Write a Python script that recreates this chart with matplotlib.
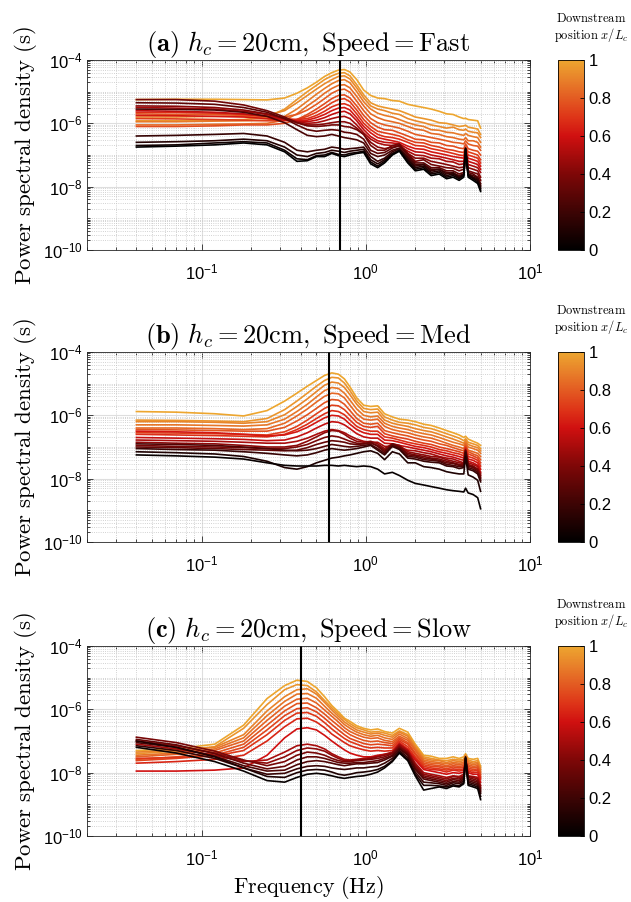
import numpy as np
import matplotlib
matplotlib.use("Agg")
import matplotlib.pyplot as plt
from matplotlib.colors import LinearSegmentedColormap, Normalize
from matplotlib.cm import ScalarMappable
from matplotlib.ticker import FixedLocator, LogLocator, NullFormatter

plt.rcParams['font.family'] = ['Liberation Sans', 'DejaVu Sans']
plt.rcParams['mathtext.fontset'] = 'custom'
plt.rcParams['mathtext.rm'] = 'Liberation Sans'

# frequency grid (Hz) shared by all spectra
freq = [0.04, 0.07, 0.12, 0.18, 0.25, 0.32, 0.38, 0.44, 0.5, 0.56, 0.62, 0.68,
        0.74, 0.8, 0.88, 0.97, 1.07, 1.18, 1.3, 1.45, 1.6, 1.8, 2.0, 2.25, 2.5,
        2.8, 3.1, 3.4, 3.7, 3.95, 4.05, 4.2, 4.5, 4.8, 5.0]

# downstream position x/Lc of each spectrum (colour)
pos_fast = [1.0, 0.96, 0.92, 0.88, 0.84, 0.80, 0.76, 0.72, 0.68, 0.62,
            0.56, 0.50, 0.42, 0.36, 0.30, 0.24, 0.18, 0.12, 0.06, 0.0]
# log10 of PSD, one row per position
psd_fast = [
    [-5.25,-5.24,-5.24,-5.25,-5.26,-5.2,-5.05,-4.88,-4.7,-4.52,-4.4,-4.32,-4.3,-4.38,-4.62,-4.95,-5.12,-5.2,-5.22,-5.28,-5.3,-5.4,-5.45,-5.5,-5.55,-5.62,-5.7,-5.72,-5.8,-5.85,-5.84,-5.88,-5.9,-5.92,-6.15],
    [-5.92,-5.92,-5.9,-5.88,-5.8,-5.55,-5.25,-5.0,-4.8,-4.62,-4.5,-4.42,-4.4,-4.5,-4.78,-5.1,-5.35,-5.45,-5.5,-5.55,-5.6,-5.7,-5.8,-5.85,-5.9,-5.98,-6.0,-6.05,-6.1,-6.08,-6.06,-6.12,-6.15,-6.18,-6.35],
    [-5.8,-5.8,-5.78,-5.78,-5.75,-5.6,-5.35,-5.12,-4.92,-4.75,-4.62,-4.52,-4.5,-4.6,-4.88,-5.2,-5.45,-5.55,-5.6,-5.68,-5.72,-5.85,-5.92,-5.98,-6.05,-6.1,-6.15,-6.12,-6.2,-6.22,-6.18,-6.25,-6.28,-6.3,-6.45],
    [-5.95,-5.95,-5.93,-5.92,-5.9,-5.78,-5.55,-5.3,-5.08,-4.9,-4.75,-4.65,-4.62,-4.72,-5.0,-5.32,-5.55,-5.68,-5.75,-5.8,-5.88,-5.98,-6.05,-6.1,-6.2,-6.22,-6.28,-6.3,-6.35,-6.38,-6.32,-6.38,-6.42,-6.45,-6.6],
    [-6.05,-6.05,-6.03,-6.02,-6.0,-5.9,-5.7,-5.45,-5.25,-5.05,-4.9,-4.8,-4.78,-4.88,-5.15,-5.45,-5.7,-5.82,-5.9,-5.95,-6.0,-6.1,-6.18,-6.22,-6.32,-6.35,-6.42,-6.45,-6.5,-6.52,-6.45,-6.55,-6.55,-6.6,-6.75],
    [-5.7,-5.72,-5.72,-5.75,-5.78,-5.8,-5.72,-5.58,-5.4,-5.22,-5.05,-4.95,-4.92,-5.02,-5.3,-5.6,-5.85,-5.98,-6.05,-6.1,-6.15,-6.25,-6.35,-6.4,-6.45,-6.5,-6.55,-6.6,-6.62,-6.65,-6.55,-6.65,-6.7,-6.72,-6.85],
    [-6.1,-6.1,-6.08,-6.05,-6.05,-6.0,-5.88,-5.72,-5.55,-5.38,-5.22,-5.12,-5.1,-5.2,-5.45,-5.75,-5.98,-6.12,-6.2,-6.22,-6.3,-6.4,-6.5,-6.52,-6.6,-6.62,-6.7,-6.72,-6.78,-6.8,-6.65,-6.8,-6.85,-6.88,-7.0],
    [-5.85,-5.86,-5.88,-5.9,-5.92,-5.92,-5.88,-5.78,-5.65,-5.5,-5.35,-5.25,-5.22,-5.32,-5.58,-5.88,-6.1,-6.25,-6.3,-6.35,-6.4,-6.52,-6.6,-6.62,-6.7,-6.75,-6.82,-6.85,-6.9,-6.92,-6.75,-6.9,-6.95,-7.0,-7.15],
    [-5.65,-5.66,-5.68,-5.72,-5.78,-5.85,-5.88,-5.85,-5.75,-5.62,-5.48,-5.4,-5.38,-5.45,-5.7,-6.0,-6.2,-6.35,-6.42,-6.45,-6.5,-6.6,-6.7,-6.72,-6.8,-6.85,-6.9,-6.95,-7.0,-7.02,-6.82,-7.0,-7.05,-7.1,-7.25],
    [-5.75,-5.76,-5.78,-5.8,-5.85,-5.9,-5.92,-5.9,-5.82,-5.72,-5.6,-5.52,-5.5,-5.58,-5.82,-6.1,-6.3,-6.45,-6.5,-6.55,-6.6,-6.72,-6.8,-6.82,-6.9,-6.95,-7.0,-7.05,-7.08,-7.1,-6.85,-7.1,-7.15,-7.2,-7.35],
    [-5.6,-5.62,-5.65,-5.7,-5.78,-5.88,-5.95,-5.95,-5.9,-5.82,-5.72,-5.65,-5.62,-5.7,-5.92,-6.2,-6.42,-6.55,-6.6,-6.62,-6.65,-6.8,-6.9,-6.92,-7.0,-7.05,-7.1,-7.15,-7.2,-7.2,-6.9,-7.2,-7.25,-7.3,-7.45],
    [-5.5,-5.52,-5.55,-5.62,-5.72,-5.85,-5.95,-6.0,-5.98,-5.92,-5.85,-5.8,-5.78,-5.85,-6.05,-6.3,-6.5,-6.62,-6.68,-6.7,-6.72,-6.88,-7.0,-7.02,-7.1,-7.12,-7.2,-7.22,-7.3,-7.28,-6.95,-7.3,-7.35,-7.4,-7.55],
    [-5.45,-5.46,-5.5,-5.58,-5.7,-5.85,-5.98,-6.05,-6.05,-6.02,-5.98,-5.95,-5.95,-6.0,-6.15,-6.35,-6.6,-6.75,-6.8,-6.75,-6.72,-6.95,-7.1,-7.1,-7.2,-7.25,-7.3,-7.35,-7.4,-7.38,-6.95,-7.4,-7.45,-7.5,-7.7],
    [-5.25,-5.25,-5.3,-5.42,-5.6,-5.8,-5.98,-6.08,-6.1,-6.08,-6.05,-6.05,-6.1,-6.12,-6.2,-6.35,-6.7,-6.85,-6.85,-6.7,-6.65,-6.95,-7.2,-7.15,-7.3,-7.35,-7.4,-7.42,-7.5,-7.45,-6.9,-7.5,-7.55,-7.6,-7.8],
    [-5.35,-5.36,-5.4,-5.5,-5.65,-5.85,-6.05,-6.2,-6.25,-6.22,-6.2,-6.22,-6.28,-6.3,-6.35,-6.5,-6.85,-6.95,-6.92,-6.78,-6.7,-7.0,-7.25,-7.25,-7.4,-7.4,-7.5,-7.5,-7.6,-7.55,-6.85,-7.55,-7.6,-7.7,-7.9],
    [-5.55,-5.56,-5.58,-5.65,-5.78,-5.98,-6.2,-6.38,-6.42,-6.4,-6.35,-6.4,-6.45,-6.48,-6.52,-6.62,-6.95,-7.05,-7.0,-6.85,-6.78,-7.05,-7.3,-7.3,-7.45,-7.45,-7.55,-7.58,-7.65,-7.6,-6.9,-7.6,-7.65,-7.72,-7.95],
    [-6.4,-6.38,-6.35,-6.32,-6.4,-6.6,-6.85,-6.9,-6.85,-6.82,-6.75,-6.78,-6.82,-6.8,-6.78,-6.75,-7.05,-7.2,-7.1,-6.9,-6.8,-7.1,-7.35,-7.3,-7.5,-7.45,-7.6,-7.55,-7.7,-7.6,-6.8,-7.6,-7.7,-7.75,-8.0],
    [-6.6,-6.58,-6.55,-6.5,-6.55,-6.75,-7.0,-7.05,-6.95,-6.92,-6.85,-6.88,-6.92,-6.88,-6.85,-6.82,-7.15,-7.28,-7.15,-6.95,-6.85,-7.15,-7.4,-7.35,-7.55,-7.5,-7.65,-7.6,-7.72,-7.62,-6.78,-7.62,-7.72,-7.8,-8.05],
    [-6.7,-6.68,-6.62,-6.58,-6.62,-6.85,-7.12,-7.15,-7.02,-7.0,-6.92,-6.98,-7.0,-6.95,-6.92,-6.88,-7.22,-7.35,-7.2,-6.98,-6.85,-7.2,-7.45,-7.4,-7.6,-7.55,-7.7,-7.65,-7.75,-7.65,-6.8,-7.65,-7.75,-7.85,-8.1],
    [-6.75,-6.72,-6.68,-6.62,-6.68,-6.9,-7.2,-7.18,-7.05,-7.05,-6.95,-7.02,-7.05,-7.0,-6.95,-6.92,-7.28,-7.4,-7.25,-7.0,-6.88,-7.25,-7.5,-7.45,-7.65,-7.6,-7.75,-7.7,-7.8,-7.7,-6.82,-7.7,-7.8,-7.9,-8.15],
]

pos_med = [1.0, 0.95, 0.91, 0.87, 0.83, 0.78, 0.73, 0.68, 0.62, 0.57,
           0.50, 0.44, 0.38, 0.32, 0.25, 0.18, 0.10, 0.03]
psd_med = [
    [-5.88,-5.9,-5.95,-6.02,-5.85,-5.55,-5.3,-5.08,-4.9,-4.74,-4.66,-4.7,-4.85,-5.1,-5.45,-5.68,-5.72,-5.7,-5.95,-6.05,-6.12,-6.15,-6.2,-6.28,-6.32,-6.4,-6.48,-6.55,-6.62,-6.7,-6.66,-6.75,-6.82,-6.88,-6.95],
    [-6.15,-6.16,-6.18,-6.2,-6.1,-5.82,-5.55,-5.3,-5.08,-4.9,-4.8,-4.82,-4.98,-5.22,-5.55,-5.78,-5.82,-5.8,-6.05,-6.15,-6.22,-6.25,-6.3,-6.38,-6.42,-6.5,-6.58,-6.65,-6.72,-6.8,-6.74,-6.85,-6.9,-6.95,-7.05],
    [-6.2,-6.2,-6.22,-6.25,-6.2,-5.98,-5.72,-5.48,-5.25,-5.05,-4.95,-4.98,-5.12,-5.35,-5.65,-5.88,-5.92,-5.9,-6.15,-6.25,-6.3,-6.35,-6.42,-6.48,-6.52,-6.6,-6.68,-6.75,-6.82,-6.88,-6.8,-6.92,-6.98,-7.02,-7.12],
    [-6.3,-6.3,-6.32,-6.34,-6.3,-6.12,-5.88,-5.65,-5.42,-5.22,-5.12,-5.15,-5.3,-5.52,-5.8,-6.0,-6.05,-6.02,-6.25,-6.35,-6.4,-6.45,-6.52,-6.58,-6.62,-6.7,-6.78,-6.85,-6.9,-6.95,-6.85,-7.0,-7.05,-7.1,-7.2],
    [-6.4,-6.4,-6.42,-6.45,-6.42,-6.25,-6.02,-5.8,-5.58,-5.4,-5.3,-5.32,-5.45,-5.68,-5.95,-6.12,-6.15,-6.12,-6.35,-6.45,-6.5,-6.55,-6.62,-6.68,-6.72,-6.8,-6.88,-6.95,-7.0,-7.05,-6.9,-7.1,-7.15,-7.2,-7.3],
    [-6.45,-6.46,-6.48,-6.5,-6.5,-6.38,-6.18,-5.98,-5.78,-5.6,-5.5,-5.52,-5.65,-5.85,-6.1,-6.25,-6.28,-6.25,-6.48,-6.55,-6.6,-6.65,-6.72,-6.78,-6.82,-6.9,-6.95,-7.02,-7.08,-7.12,-6.95,-7.15,-7.22,-7.28,-7.4],
    [-6.55,-6.56,-6.58,-6.6,-6.62,-6.52,-6.35,-6.15,-5.95,-5.78,-5.68,-5.7,-5.82,-6.0,-6.22,-6.35,-6.38,-6.35,-6.58,-6.65,-6.7,-6.75,-6.82,-6.88,-6.92,-7.0,-7.05,-7.1,-7.15,-7.2,-7.0,-7.22,-7.28,-7.35,-7.5],
    [-6.6,-6.62,-6.64,-6.66,-6.68,-6.6,-6.45,-6.28,-6.1,-5.95,-5.85,-5.88,-5.98,-6.15,-6.35,-6.45,-6.5,-6.5,-6.68,-6.72,-6.78,-6.85,-6.9,-6.95,-7.0,-7.08,-7.12,-7.18,-7.22,-7.28,-7.02,-7.3,-7.35,-7.42,-7.6],
    [-6.5,-6.52,-6.55,-6.6,-6.65,-6.62,-6.52,-6.38,-6.22,-6.08,-6.0,-6.02,-6.12,-6.28,-6.45,-6.55,-6.6,-6.6,-6.78,-6.8,-6.85,-6.92,-6.98,-7.02,-7.08,-7.15,-7.2,-7.25,-7.3,-7.35,-7.05,-7.38,-7.42,-7.5,-7.7],
    [-6.7,-6.72,-6.74,-6.76,-6.8,-6.78,-6.68,-6.55,-6.4,-6.28,-6.2,-6.22,-6.3,-6.42,-6.58,-6.68,-6.72,-6.72,-6.88,-6.9,-6.95,-7.0,-7.05,-7.1,-7.15,-7.22,-7.28,-7.32,-7.38,-7.42,-7.1,-7.45,-7.5,-7.58,-7.8],
    [-6.78,-6.8,-6.82,-6.85,-6.88,-6.88,-6.82,-6.72,-6.6,-6.5,-6.45,-6.48,-6.55,-6.65,-6.75,-6.82,-6.85,-6.85,-6.98,-6.98,-7.02,-7.1,-7.12,-7.18,-7.22,-7.3,-7.35,-7.38,-7.45,-7.5,-7.12,-7.5,-7.55,-7.62,-7.85],
    [-6.85,-6.88,-6.9,-6.95,-7.0,-7.0,-6.95,-6.82,-6.68,-6.55,-6.48,-6.5,-6.6,-6.72,-6.82,-6.85,-6.82,-6.9,-7.05,-6.9,-6.95,-7.15,-7.2,-7.25,-7.3,-7.32,-7.4,-7.45,-7.5,-7.52,-7.1,-7.55,-7.6,-7.7,-7.9],
    [-6.95,-6.98,-7.0,-7.02,-7.05,-7.05,-7.0,-6.92,-6.8,-6.7,-6.65,-6.68,-6.75,-6.82,-6.88,-6.9,-6.88,-6.95,-7.1,-6.95,-7.0,-7.2,-7.25,-7.3,-7.35,-7.38,-7.45,-7.5,-7.55,-7.55,-7.1,-7.58,-7.62,-7.7,-7.95],
    [-7.0,-7.02,-7.05,-7.08,-7.1,-7.12,-7.1,-7.02,-6.92,-6.85,-6.8,-6.82,-6.85,-6.9,-6.92,-6.9,-6.85,-6.98,-7.15,-6.9,-7.0,-7.25,-7.28,-7.35,-7.38,-7.42,-7.5,-7.52,-7.58,-7.6,-7.12,-7.6,-7.65,-7.75,-8.0],
    [-6.9,-6.92,-6.95,-7.0,-7.05,-7.1,-7.12,-7.1,-7.05,-6.98,-6.92,-6.95,-6.98,-7.0,-6.98,-6.95,-6.92,-7.05,-7.2,-6.95,-7.05,-7.3,-7.32,-7.4,-7.42,-7.45,-7.55,-7.58,-7.62,-7.62,-7.15,-7.65,-7.7,-7.8,-8.05],
    [-7.05,-7.08,-7.1,-7.15,-7.2,-7.25,-7.28,-7.25,-7.18,-7.1,-7.05,-7.08,-7.1,-7.08,-7.05,-7.0,-6.95,-7.1,-7.25,-6.98,-7.08,-7.35,-7.38,-7.45,-7.48,-7.5,-7.6,-7.62,-7.68,-7.65,-7.18,-7.7,-7.75,-7.85,-8.1],
    [-7.15,-7.18,-7.22,-7.3,-7.45,-7.65,-7.7,-7.62,-7.5,-7.42,-7.35,-7.32,-7.28,-7.25,-7.2,-7.15,-7.12,-7.2,-7.4,-7.15,-7.22,-7.5,-7.5,-7.62,-7.65,-7.7,-7.78,-7.82,-7.85,-7.85,-7.3,-7.88,-7.95,-8.05,-8.4],
    [-7.25,-7.28,-7.32,-7.38,-7.5,-7.58,-7.6,-7.6,-7.6,-7.58,-7.58,-7.6,-7.58,-7.6,-7.62,-7.6,-7.62,-7.7,-7.85,-7.8,-7.9,-8.05,-8.15,-8.2,-8.25,-8.3,-8.35,-8.38,-8.4,-8.42,-8.3,-8.45,-8.5,-8.6,-8.95],
]

pos_slow = [1.0, 0.95, 0.90, 0.86, 0.82, 0.78, 0.74, 0.70, 0.66, 0.60,
            0.50, 0.44, 0.38, 0.32, 0.25, 0.18, 0.10, 0.03]
psd_slow = [
    [-7.3,-7.25,-7.1,-6.5,-5.66,-5.25,-5.08,-5.12,-5.32,-5.6,-5.88,-6.08,-6.28,-6.38,-6.52,-6.6,-6.65,-6.62,-6.7,-6.75,-6.6,-6.72,-7.1,-7.45,-7.48,-7.55,-7.55,-7.5,-7.55,-7.5,-7.4,-7.55,-7.58,-7.55,-7.8],
    [-7.4,-7.32,-7.18,-6.6,-5.85,-5.38,-5.22,-5.25,-5.45,-5.72,-5.95,-6.15,-6.32,-6.45,-6.58,-6.65,-6.72,-6.7,-6.75,-6.82,-6.68,-6.8,-7.15,-7.5,-7.55,-7.6,-7.62,-7.58,-7.6,-7.58,-7.45,-7.6,-7.65,-7.62,-7.85],
    [-7.35,-7.3,-7.2,-6.8,-6.05,-5.6,-5.38,-5.35,-5.52,-5.78,-6.02,-6.22,-6.4,-6.52,-6.65,-6.72,-6.78,-6.75,-6.82,-6.88,-6.72,-6.85,-7.2,-7.55,-7.6,-7.62,-7.68,-7.62,-7.65,-7.62,-7.45,-7.65,-7.7,-7.68,-7.9],
    [-7.45,-7.38,-7.25,-6.9,-6.2,-5.75,-5.52,-5.5,-5.65,-5.9,-6.12,-6.3,-6.48,-6.6,-6.72,-6.8,-6.85,-6.82,-6.9,-6.95,-6.78,-6.92,-7.25,-7.6,-7.65,-7.68,-7.72,-7.68,-7.7,-7.68,-7.5,-7.7,-7.75,-7.72,-7.95],
    [-7.5,-7.42,-7.3,-7.0,-6.35,-5.9,-5.68,-5.65,-5.8,-6.02,-6.22,-6.4,-6.58,-6.7,-6.8,-6.88,-6.92,-6.9,-6.98,-7.02,-6.85,-6.98,-7.3,-7.65,-7.7,-7.72,-7.78,-7.72,-7.75,-7.72,-7.55,-7.75,-7.8,-7.78,-8.0],
    [-7.58,-7.5,-7.38,-7.1,-6.5,-6.05,-5.82,-5.8,-5.95,-6.15,-6.35,-6.52,-6.68,-6.8,-6.9,-6.98,-7.02,-7.0,-7.05,-7.08,-6.9,-7.05,-7.38,-7.7,-7.75,-7.78,-7.82,-7.78,-7.8,-7.78,-7.6,-7.8,-7.85,-7.82,-8.05],
    [-7.62,-7.55,-7.45,-7.2,-6.65,-6.2,-5.98,-5.95,-6.08,-6.28,-6.48,-6.65,-6.8,-6.92,-7.0,-7.08,-7.12,-7.1,-7.12,-7.15,-6.95,-7.1,-7.42,-7.75,-7.8,-7.82,-7.88,-7.82,-7.85,-7.82,-7.62,-7.85,-7.9,-7.88,-8.1],
    [-7.55,-7.52,-7.48,-7.3,-6.8,-6.35,-6.12,-6.1,-6.22,-6.42,-6.62,-6.78,-6.92,-7.02,-7.1,-7.18,-7.22,-7.2,-7.22,-7.22,-7.0,-7.18,-7.5,-7.8,-7.85,-7.88,-7.92,-7.88,-7.9,-7.88,-7.65,-7.9,-7.95,-7.92,-8.15],
    [-7.7,-7.65,-7.58,-7.45,-7.0,-6.55,-6.3,-6.28,-6.4,-6.58,-6.78,-6.92,-7.05,-7.15,-7.22,-7.28,-7.32,-7.3,-7.32,-7.3,-7.05,-7.25,-7.55,-7.85,-7.9,-7.92,-7.98,-7.92,-7.95,-7.92,-7.68,-7.95,-8.0,-7.98,-8.2],
    [-7.95,-7.95,-7.92,-7.85,-7.45,-6.9,-6.62,-6.58,-6.65,-6.82,-7.0,-7.15,-7.28,-7.38,-7.45,-7.5,-7.5,-7.45,-7.42,-7.38,-7.1,-7.3,-7.6,-7.9,-7.95,-8.0,-8.05,-8.0,-8.02,-7.98,-7.7,-8.0,-8.05,-8.05,-8.3],
    [-7.1,-7.25,-7.45,-7.65,-7.6,-7.35,-7.15,-7.1,-7.15,-7.25,-7.4,-7.5,-7.58,-7.6,-7.58,-7.55,-7.52,-7.48,-7.42,-7.35,-7.1,-7.3,-7.7,-8.0,-8.05,-8.1,-8.15,-8.1,-8.12,-8.05,-7.6,-8.1,-8.12,-8.15,-8.4],
    [-7.0,-7.15,-7.38,-7.62,-7.7,-7.5,-7.3,-7.22,-7.25,-7.32,-7.45,-7.55,-7.62,-7.62,-7.6,-7.58,-7.55,-7.5,-7.45,-7.38,-7.15,-7.35,-7.75,-8.05,-8.1,-8.15,-8.2,-8.12,-8.15,-8.1,-7.58,-8.12,-8.15,-8.2,-8.45],
    [-6.88,-7.05,-7.32,-7.6,-7.78,-7.65,-7.45,-7.35,-7.38,-7.45,-7.55,-7.62,-7.65,-7.65,-7.62,-7.6,-7.58,-7.55,-7.5,-7.4,-7.18,-7.38,-7.8,-8.1,-8.15,-8.2,-8.25,-8.18,-8.2,-8.12,-7.55,-8.15,-8.2,-8.25,-8.5],
    [-6.95,-7.12,-7.4,-7.7,-7.88,-7.8,-7.6,-7.5,-7.5,-7.55,-7.62,-7.68,-7.7,-7.7,-7.68,-7.68,-7.65,-7.62,-7.55,-7.45,-7.22,-7.42,-7.85,-8.15,-8.2,-8.25,-8.3,-8.22,-8.25,-8.15,-7.55,-8.2,-8.25,-8.3,-8.55],
    [-7.05,-7.2,-7.48,-7.78,-7.95,-7.92,-7.75,-7.65,-7.62,-7.65,-7.7,-7.75,-7.78,-7.75,-7.72,-7.72,-7.7,-7.68,-7.6,-7.48,-7.25,-7.45,-7.9,-8.2,-8.25,-8.3,-8.35,-8.28,-8.3,-8.2,-7.52,-8.25,-8.3,-8.35,-8.6],
    [-7.15,-7.3,-7.55,-7.85,-8.05,-8.02,-7.88,-7.8,-7.78,-7.8,-7.85,-7.88,-7.9,-7.88,-7.85,-7.85,-7.82,-7.8,-7.7,-7.55,-7.3,-7.52,-7.98,-8.3,-8.32,-8.35,-8.4,-8.32,-8.35,-8.25,-7.55,-8.3,-8.35,-8.4,-8.65],
    [-7.0,-7.2,-7.5,-7.85,-8.12,-8.15,-8.0,-7.92,-7.9,-7.92,-7.98,-8.05,-8.08,-8.05,-8.0,-7.98,-7.95,-7.9,-7.8,-7.62,-7.35,-7.58,-8.05,-8.4,-8.4,-8.42,-8.45,-8.38,-8.42,-8.3,-7.5,-8.35,-8.4,-8.45,-8.75],
    [-7.2,-7.38,-7.65,-7.95,-8.25,-8.3,-8.15,-8.05,-8.02,-8.05,-8.1,-8.15,-8.18,-8.15,-8.12,-8.1,-8.05,-7.98,-7.85,-7.65,-7.38,-7.62,-8.1,-8.55,-8.5,-8.45,-8.5,-8.42,-8.45,-8.35,-7.55,-8.4,-8.45,-8.5,-8.85],
]

titles = [r'$\mathbf{(a)}\ h_c = 20\mathrm{cm,\ Speed} = \mathrm{Fast}$',
          r'$\mathbf{(b)}\ h_c = 20\mathrm{cm,\ Speed} = \mathrm{Med}$',
          r'$\mathbf{(c)}\ h_c = 20\mathrm{cm,\ Speed} = \mathrm{Slow}$']
peak_freq = [0.7, 0.6, 0.4]

cmap = LinearSegmentedColormap.from_list('downstream', [
    (0.0, '#000000'), (0.2, '#3d0404'), (0.4, '#7e0707'), (0.6, '#d01010'),
    (0.7, '#de3518'), (0.8, '#e35b22'), (0.9, '#e8812a'), (1.0, '#eda62f')])
norm = Normalize(0, 1)

fig = plt.figure(figsize=(6.31, 9.02), dpi=100)
W, H = 631.0, 902.0
tops = [60, 352, 646]
ax_h = 190

panels = [(pos_fast, psd_fast), (pos_med, psd_med), (pos_slow, psd_slow)]
for i, (pos, psd) in enumerate(panels):
    top = tops[i]
    ax = fig.add_axes([87 / W, 1 - (top + ax_h) / H, 443 / W, ax_h / H])
    # dark (upstream) spectra drawn last
    order = np.argsort(pos)[::-1]
    for k in order:
        ax.plot(freq, 10.0 ** np.array(psd[k]), color=cmap(norm(pos[k])), lw=1.2)
    ax.axvline(peak_freq[i], color='k', lw=1.5)
    ax.set_xscale('log')
    ax.set_yscale('log')
    ax.set_xlim(0.02, 10)
    ax.set_ylim(1e-10, 1e-4)
    ax.yaxis.set_major_locator(FixedLocator([1e-10, 1e-8, 1e-6, 1e-4]))
    ax.yaxis.set_minor_locator(LogLocator(base=10, subs=np.arange(1, 10), numticks=20))
    ax.yaxis.set_minor_formatter(NullFormatter())
    ax.xaxis.set_major_locator(FixedLocator([0.1, 1, 10]))
    ax.xaxis.set_minor_locator(LogLocator(base=10, subs=np.arange(2, 10), numticks=20))
    ax.xaxis.set_minor_formatter(NullFormatter())
    ax.grid(True, which='major', color='#dedede', lw=0.8, ls='-')
    ax.grid(True, which='minor', color='#c4c4c4', lw=0.6, ls=':')
    ax.set_axisbelow(True)
    ax.tick_params(which='both', direction='in', top=True, right=True,
                   labelsize=12, color='#262626', width=0.6)
    ax.tick_params(which='major', length=4)
    ax.tick_params(which='minor', length=2)
    ax.tick_params(axis='x', pad=9)
    ax.tick_params(axis='y', pad=3)
    for s in ax.spines.values():
        s.set_color('#262626')
        s.set_linewidth(0.6)
    ax.set_title(titles[i], fontsize=19, math_fontfamily='cm', pad=6)
    ax.set_ylabel(r'$\mathrm{Power\ spectral\ density\ (s)}$', fontsize=16.5,
                  math_fontfamily='cm', labelpad=3)
    if i == 2:
        ax.set_xlabel(r'$\mathrm{Frequency\ (Hz)}$', fontsize=16,
                      math_fontfamily='cm', labelpad=4)

    cax = fig.add_axes([558 / W, 1 - (top + ax_h) / H, 26 / W, ax_h / H])
    cb = fig.colorbar(ScalarMappable(norm=norm, cmap=cmap), cax=cax,
                      ticks=[0, 0.2, 0.4, 0.6, 0.8, 1])
    cb.ax.set_yticklabels(['0', '0.2', '0.4', '0.6', '0.8', '1'])
    cb.ax.tick_params(labelsize=12, direction='in', length=3, width=0.6)
    cb.outline.set_linewidth(0.6)
    fig.text(591 / W, 1 - (top - 42) / H, r'$\mathrm{Downstream}$', fontsize=9,
             math_fontfamily='cm', ha='center', va='center')
    fig.text(591 / W, 1 - (top - 25) / H, r'$\mathrm{position}\ x/L_c$', fontsize=9,
             math_fontfamily='cm', ha='center', va='center')

fig.savefig('out.png', dpi=100)
